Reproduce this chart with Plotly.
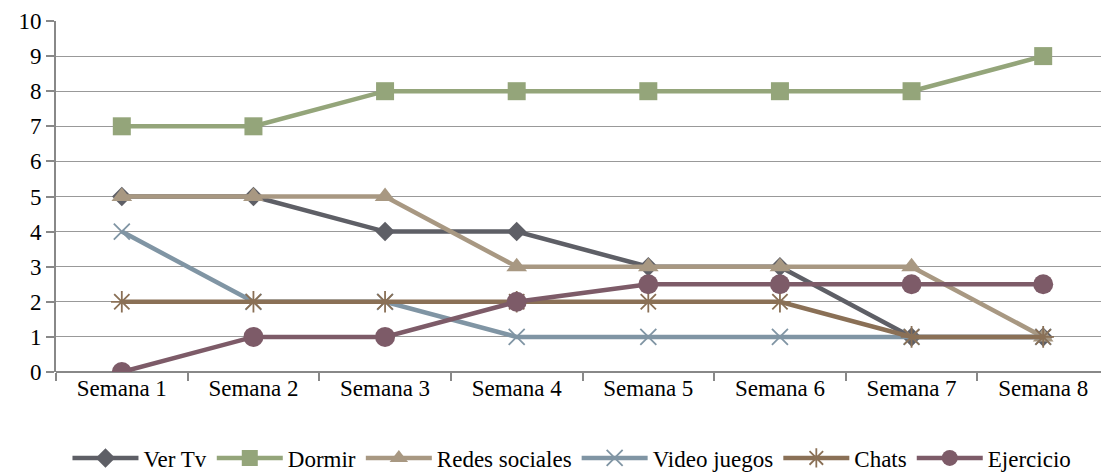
import plotly.graph_objects as go

categories = ["Semana 1", "Semana 2", "Semana 3", "Semana 4", "Semana 5", "Semana 6", "Semana 7", "Semana 8"]
ver_tv = [5, 5, 4, 4, 3, 3, 1, 1]
dormir = [7, 7, 8, 8, 8, 8, 8, 9]
redes_sociales = [5, 5, 5, 3, 3, 3, 3, 1]
video_juegos = [4, 2, 2, 1, 1, 1, 1, 1]
chats = [2, 2, 2, 2, 2, 2, 1, 1]
ejercicio = [0, 1, 1, 2, 2.5, 2.5, 2.5, 2.5]

series = [
    ("Ver Tv", ver_tv, "#5e5f66", dict(symbol="diamond", size=15)),
    ("Dormir", dormir, "#94a57a", dict(symbol="square", size=18)),
    ("Redes sociales", redes_sociales, "#a89882", dict(symbol="triangle-up", size=18)),
    ("Video juegos", video_juegos, "#8095a4", dict(symbol="x-thin-open", size=16, line=dict(width=1.8, color="#8095a4"))),
    ("Chats", chats, "#8a7056", dict(symbol="asterisk-open", size=18, line=dict(width=1.8, color="#8a7056"))),
    ("Ejercicio", ejercicio, "#7d5b68", dict(symbol="circle", size=20)),
]

fig = go.Figure()
for name, vals, color, mk in series:
    marker = dict(color=color, **mk)
    fig.add_trace(go.Scatter(
        x=categories, y=vals, name=name, mode="lines+markers",
        line=dict(color=color, width=4.5), marker=marker,
    ))

font_family = '"Liberation Serif", "Times New Roman", Times, serif'
# page body has an 8px margin, so the figure is offset to compensate
fig.update_layout(
    width=1101, height=490,
    margin=dict(l=48, r=0, t=13, b=126),
    paper_bgcolor="white", plot_bgcolor="white",
    font=dict(family=font_family, size=23, color="#000000"),
    showlegend=True,
    legend=dict(orientation="h", x=0.49, xanchor="center", y=-0.245, yanchor="middle",
                font=dict(family=font_family, size=23), itemwidth=66, tracegroupgap=0),
)
fig.update_xaxes(
    type="category", tickson="boundaries", ticks="outside", ticklen=8, tickwidth=1.5,
    tickcolor="#888888", showline=False, showgrid=False, range=[-0.5, 7.5],
    tickfont=dict(family=font_family, size=23), automargin=False,
)
fig.update_yaxes(
    range=[0, 10], dtick=1, ticks="outside", ticklen=8, tickwidth=1.5, tickcolor="#888888",
    showline=True, linecolor="#888888", linewidth=2, showgrid=True, gridcolor="#999999",
    gridwidth=1.2, zeroline=True, zerolinecolor="#888888", zerolinewidth=1.5,
    tickfont=dict(family=font_family, size=23), automargin=False,
)
fig.write_html("out.html")
